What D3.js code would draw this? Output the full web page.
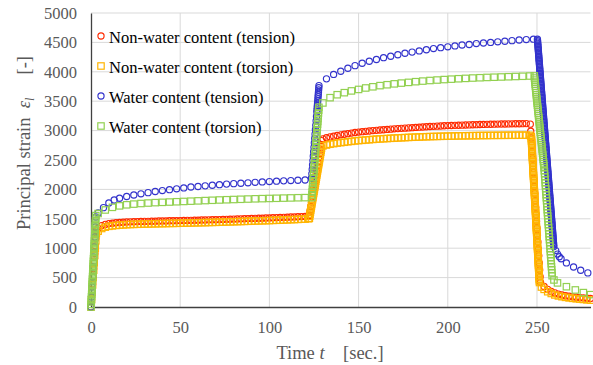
<!DOCTYPE html>
<html>
<head>
<meta charset="utf-8">
<script src="https://cdn.jsdelivr.net/npm/d3@7"></script>
<style>
  html, body { margin: 0; padding: 0; background: #fff; }
  svg { display: block; }
  svg text { font-family: 'Liberation Serif', 'Times New Roman', 'DejaVu Serif', serif; }
</style>
</head>
<body>
<svg id="chart" width="593" height="365"></svg>
<script>
// tick values
const xTicks = [0, 50, 100, 150, 200, 250];
const yTicks = [0, 500, 1000, 1500, 2000, 2500, 3000, 3500, 4000, 4500, 5000];

const seriesNames = [
  'Non-water content (tension)',
  'Non-water content (torsion)',
  'Water content (tension)',
  'Water content (torsion)',
];

// [time (sec), principal strain]
const nwTension = [
  [0, 0], [0.3, 130], [0.6, 260], [0.9, 390], [1.2, 520], [1.5, 650], [1.8, 780], [2.1, 910], [2.4, 1040], [2.7, 1170], [3, 1300],
  [4, 1340], [6, 1385], [8, 1405], [10, 1418], [12, 1425], [14, 1432], [16, 1437], [18, 1441], [20, 1445], [22, 1448],
  [24, 1450], [26, 1452], [28, 1454], [30, 1456], [32, 1457], [34, 1459], [36, 1460], [38, 1462], [40, 1463], [42, 1464],
  [44, 1466], [46, 1467], [48, 1468], [50, 1470], [52, 1471], [54, 1473], [56, 1474], [58, 1476], [60, 1477], [62, 1479],
  [64, 1480], [66, 1482], [68, 1484], [70, 1485], [72, 1487], [74, 1489], [76, 1491], [78, 1493], [80, 1495], [82, 1497],
  [84, 1499], [86, 1501], [88, 1503], [90, 1505], [92, 1507], [94, 1509], [96, 1511], [98, 1513], [100, 1515], [102, 1518],
  [104, 1520], [106, 1522], [108, 1525], [110, 1527], [112, 1530], [114, 1532], [116, 1535], [118, 1538], [120, 1540], [122, 1545],
  [122.4, 1560], [122.8, 1635], [123.2, 1710], [123.6, 1785], [124, 1860], [124.4, 1935], [124.8, 2010], [125.2, 2085],
  [125.6, 2160], [126, 2235], [126.4, 2310], [126.8, 2385], [127.2, 2460], [127.6, 2535], [128, 2610], [128.4, 2685],
  [128.8, 2760], [129.2, 2830],
  [130, 2860], [132, 2878], [134, 2893], [136, 2905], [138, 2917], [140, 2928], [142, 2938], [144, 2948], [146, 2958], [148, 2967],
  [150, 2975], [152, 2982], [154, 2988], [156, 2994], [158, 3000], [160, 3005], [162, 3010], [164, 3015], [166, 3020], [168, 3025],
  [170, 3030], [172, 3034], [174, 3038], [176, 3042], [178, 3046], [180, 3050], [182, 3054], [184, 3058], [186, 3062], [188, 3066],
  [190, 3070], [192, 3073], [194, 3076], [196, 3079], [198, 3082], [200, 3085], [202, 3087], [204, 3089], [206, 3091], [208, 3093],
  [210, 3095], [212, 3097], [214, 3099], [216, 3101], [218, 3103], [220, 3105], [222, 3106], [224, 3108], [226, 3109], [228, 3111],
  [230, 3112], [232, 3113], [234, 3114], [236, 3115], [238, 3116], [240, 3117], [242, 3118], [244, 3119],
  [246.25, 3110], [246.5, 2990], [246.75, 2875], [247, 2755], [247.25, 2640], [247.5, 2520], [247.75, 2400], [248, 2285],
  [248.25, 2165], [248.5, 2050], [248.75, 1930], [249, 1810], [249.25, 1695], [249.5, 1575], [249.75, 1460], [250, 1340],
  [250.25, 1220], [250.5, 1105], [250.75, 985], [251, 870], [251.25, 750], [251.5, 630], [251.75, 515], [252, 420],
  [254, 350], [256, 300], [258, 265], [260, 240], [262, 220], [264, 205], [266, 192], [268, 182], [270, 173], [272, 166],
  [274, 160], [276, 155], [278, 150], [280, 146],
];

const nwTorsion = [
  [0, 0], [0.3, 125], [0.6, 250], [0.9, 375], [1.2, 500], [1.5, 625], [1.8, 750], [2.1, 875], [2.4, 1000], [2.7, 1125], [3, 1250],
  [4, 1290], [6, 1335], [8, 1358], [10, 1372], [12, 1380], [14, 1387], [16, 1392], [18, 1396], [20, 1400], [22, 1403],
  [24, 1405], [26, 1407], [28, 1409], [30, 1411], [32, 1412], [34, 1414], [36, 1415], [38, 1417], [40, 1418], [42, 1419],
  [44, 1421], [46, 1422], [48, 1423], [50, 1425], [52, 1426], [54, 1428], [56, 1429], [58, 1431], [60, 1432], [62, 1434],
  [64, 1435], [66, 1437], [68, 1439], [70, 1440], [72, 1442], [74, 1444], [76, 1446], [78, 1448], [80, 1450], [82, 1452],
  [84, 1454], [86, 1456], [88, 1458], [90, 1460], [92, 1462], [94, 1464], [96, 1466], [98, 1468], [100, 1470], [102, 1473],
  [104, 1475], [106, 1477], [108, 1480], [110, 1482], [112, 1485], [114, 1487], [116, 1490], [118, 1493], [120, 1495], [122, 1500],
  [122.4, 1510], [122.6, 1545], [122.8, 1580], [123, 1615], [123.2, 1650], [123.4, 1685], [123.6, 1720], [123.8, 1755],
  [124, 1790], [124.2, 1825], [124.4, 1860], [124.6, 1895], [124.8, 1930], [125, 1965], [125.2, 2000], [125.4, 2035],
  [125.6, 2070], [125.8, 2105], [126, 2140], [126.2, 2175], [126.4, 2210], [126.6, 2245], [126.8, 2280], [127, 2315],
  [127.2, 2350], [127.4, 2385], [127.6, 2420], [127.8, 2455], [128, 2490], [128.2, 2525], [128.4, 2560], [128.6, 2595],
  [128.8, 2630], [129, 2665], [129.2, 2700],
  [130, 2740], [132, 2755], [134, 2768], [136, 2778], [138, 2788], [140, 2795], [142, 2802], [144, 2810], [146, 2817], [148, 2824],
  [150, 2830], [152, 2835], [154, 2840], [156, 2845], [158, 2850], [160, 2855], [162, 2858], [164, 2862], [166, 2865], [168, 2869],
  [170, 2872], [172, 2875], [174, 2878], [176, 2881], [178, 2884], [180, 2887], [182, 2889], [184, 2891], [186, 2894], [188, 2896],
  [190, 2898], [192, 2900], [194, 2901], [196, 2903], [198, 2904], [200, 2906], [202, 2907], [204, 2908], [206, 2910], [208, 2911],
  [210, 2912], [212, 2913], [214, 2914], [216, 2915], [218, 2916], [220, 2917], [222, 2917], [224, 2918], [226, 2919], [228, 2919],
  [230, 2920], [232, 2920], [234, 2921], [236, 2921], [238, 2921], [240, 2922], [242, 2922], [244, 2922], [246, 2920],
  [246.8, 2900], [246.85, 2873], [246.9, 2846], [246.95, 2819], [247, 2792], [247.05, 2765], [247.1, 2738], [247.15, 2711],
  [247.2, 2684], [247.25, 2657], [247.3, 2630], [247.35, 2603], [247.4, 2576], [247.45, 2549], [247.5, 2522], [247.55, 2495],
  [247.6, 2468], [247.65, 2441], [247.7, 2414], [247.75, 2387], [247.8, 2360], [247.85, 2333], [247.9, 2306], [247.95, 2279],
  [248, 2252], [248.05, 2225], [248.1, 2198], [248.15, 2171], [248.2, 2144], [248.25, 2117], [248.3, 2090], [248.35, 2063],
  [248.4, 2036], [248.45, 2009], [248.5, 1982], [248.55, 1955], [248.6, 1928], [248.65, 1901], [248.7, 1874], [248.75, 1847],
  [248.8, 1820], [248.85, 1793], [248.9, 1766], [248.95, 1739], [249, 1712], [249.05, 1685], [249.1, 1658], [249.15, 1631],
  [249.2, 1604], [249.25, 1577], [249.3, 1550], [249.35, 1523], [249.4, 1496], [249.45, 1469], [249.5, 1442], [249.55, 1415],
  [249.6, 1388], [249.65, 1361], [249.7, 1334], [249.75, 1307], [249.8, 1280], [249.85, 1253], [249.9, 1226], [249.95, 1199],
  [250, 1172], [250.05, 1145], [250.1, 1118], [250.15, 1091], [250.2, 1064], [250.25, 1037], [250.3, 1010], [250.35, 983],
  [250.4, 956], [250.45, 929], [250.5, 902], [250.55, 875], [250.6, 848], [250.65, 821], [250.7, 794], [250.75, 767],
  [250.8, 740], [250.85, 713], [250.9, 686], [250.95, 659], [251, 632], [251.05, 605], [251.1, 578], [251.15, 551],
  [251.2, 524], [251.25, 497], [251.3, 470], [251.35, 443], [251.4, 416],
  [252.5, 340], [254, 300], [256, 260], [258, 230], [260, 205], [262, 188], [264, 175], [266, 164], [268, 155], [270, 147],
  [272, 140], [274, 134], [276, 128], [278, 122], [280, 117],
];

const wTension = [
  [0, 0], [0.3, 170], [0.6, 340], [0.9, 510], [1.2, 680], [1.5, 850], [1.8, 1020], [2.1, 1190], [2.4, 1360], [2.7, 1530],
  [4, 1600], [7, 1690], [10, 1770], [13, 1820], [16, 1850], [20, 1880], [24, 1905], [28, 1925], [32, 1945], [36, 1965],
  [40, 1980], [44, 1995], [48, 2010], [52, 2025], [56, 2040], [60, 2050], [64, 2060], [68, 2070], [72, 2080], [76, 2090],
  [80, 2098], [84, 2105], [88, 2112], [92, 2120], [96, 2127], [100, 2133], [104, 2140], [108, 2145], [112, 2150], [116, 2155],
  [120, 2160],
  [123.6, 2190], [123.8, 2265], [124, 2340], [124.2, 2415], [124.4, 2490], [124.6, 2565], [124.8, 2640], [125, 2715],
  [125.2, 2790], [125.4, 2865], [125.6, 2940], [125.8, 3015], [126, 3090], [126.2, 3165], [126.4, 3240], [126.6, 3315],
  [126.7, 3352], [126.8, 3390], [126.9, 3428], [127, 3465], [127.1, 3502], [127.2, 3540], [127.3, 3578], [127.4, 3615],
  [127.5, 3652], [127.6, 3690], [127.7, 3728], [127.8, 3765],
  [132, 3880], [136, 3955], [140, 4010], [144, 4060], [148, 4105], [152, 4145], [156, 4180], [160, 4210], [164, 4240], [168, 4265],
  [172, 4290], [176, 4315], [180, 4335], [184, 4355], [188, 4375], [192, 4395], [196, 4410], [200, 4425], [204, 4440], [208, 4455],
  [212, 4465], [216, 4480], [220, 4490], [224, 4500], [228, 4510], [232, 4520], [236, 4530], [240, 4540], [244, 4548], [248, 4555],
  [250.25, 4555], [250.3125, 4531], [250.375, 4507], [250.4375, 4483], [250.5, 4459], [250.5625, 4435], [250.625, 4411], [250.6875, 4387],
  [250.75, 4363], [250.8125, 4339], [250.875, 4315], [250.9375, 4291], [251, 4267], [251.0625, 4243], [251.125, 4219], [251.1875, 4195],
  [251.25, 4171], [251.3125, 4147], [251.375, 4123], [251.4375, 4099], [251.5, 4075], [251.5625, 4051], [251.625, 4027], [251.6875, 4003],
  [251.75, 3979], [251.8125, 3955], [251.875, 3931], [251.9375, 3907], [252, 3883], [252.0625, 3859], [252.125, 3835], [252.1875, 3811],
  [252.25, 3787], [252.3125, 3763], [252.375, 3739], [252.4375, 3715], [252.5, 3691], [252.5625, 3667], [252.625, 3643], [252.6875, 3619],
  [252.75, 3595], [252.8125, 3571], [252.875, 3547], [252.9375, 3523], [253, 3499], [253.0625, 3475], [253.125, 3451], [253.1875, 3427],
  [253.25, 3403], [253.3125, 3379], [253.375, 3355], [253.4375, 3331], [253.5, 3307], [253.5625, 3283], [253.625, 3259], [253.6875, 3235],
  [253.75, 3211], [253.8125, 3187], [253.875, 3163], [253.9375, 3139], [254, 3115], [254.0625, 3091], [254.125, 3067], [254.1875, 3043],
  [254.25, 3019], [254.3125, 2995], [254.375, 2971], [254.4375, 2947], [254.5, 2923], [254.5625, 2899], [254.625, 2875], [254.6875, 2851],
  [254.75, 2827], [254.8125, 2803], [254.875, 2779], [254.9375, 2755], [255, 2731], [255.0625, 2707], [255.125, 2683], [255.1875, 2659],
  [255.25, 2635], [255.3125, 2611], [255.375, 2587], [255.4375, 2563], [255.5, 2539], [255.5625, 2515], [255.625, 2491], [255.6875, 2467],
  [255.75, 2443], [255.8125, 2419], [255.875, 2395], [255.9375, 2371], [256, 2347], [256.0625, 2323], [256.125, 2299], [256.1875, 2275],
  [256.25, 2251], [256.3125, 2227], [256.375, 2203], [256.4375, 2179], [256.5, 2155], [256.5625, 2131], [256.625, 2107], [256.6875, 2083],
  [256.75, 2059], [256.8125, 2035], [256.875, 2011], [256.9375, 1987], [257, 1963], [257.0625, 1939], [257.125, 1915], [257.1875, 1891],
  [257.25, 1867], [257.3125, 1843], [257.375, 1819], [257.4375, 1795], [257.5, 1771], [257.5625, 1747], [257.625, 1723], [257.6875, 1699],
  [257.75, 1675], [257.8125, 1651], [257.875, 1627], [257.9375, 1603], [258, 1579], [258.0625, 1555], [258.125, 1531], [258.1875, 1507],
  [258.25, 1483], [258.3125, 1459], [258.375, 1435], [258.4375, 1411], [258.5, 1387], [258.5625, 1363], [258.625, 1339], [258.6875, 1315],
  [258.75, 1291], [258.8125, 1267], [258.875, 1243], [258.9375, 1219], [259, 1195], [259.0625, 1171], [259.125, 1147], [259.1875, 1123],
  [259.25, 1099], [259.3125, 1075], [259.375, 1051], [259.4375, 1027],
  [260.5, 960], [261.5, 900], [262.5, 855], [263.5, 820], [266.5, 750], [270.5, 680], [274.5, 625], [278.5, 580],
];

const wTorsion = [
  [0, 0], [0.075, 43], [0.15, 86], [0.225, 130], [0.3, 173], [0.375, 216], [0.45, 259], [0.525, 302], [0.6, 346], [0.675, 389],
  [0.75, 432], [0.825, 475], [0.9, 518], [0.975, 562], [1.05, 605], [1.125, 648], [1.2, 691], [1.275, 734], [1.35, 778],
  [1.425, 821], [1.5, 864], [1.575, 907], [1.65, 950], [1.725, 994], [1.8, 1037], [1.875, 1080], [1.95, 1123], [2.025, 1166],
  [2.1, 1210], [2.175, 1253], [2.25, 1296], [2.325, 1339], [2.4, 1382], [2.475, 1426], [2.55, 1469], [2.625, 1512], [2.7, 1555],
  [4, 1590], [8, 1650], [12, 1695], [16, 1720], [20, 1738], [24, 1750], [28, 1760], [32, 1768], [36, 1775], [40, 1780],
  [44, 1785], [48, 1790], [52, 1795], [56, 1800], [60, 1805], [64, 1810], [68, 1815], [72, 1820], [76, 1824], [80, 1828],
  [84, 1832], [88, 1836], [92, 1840], [96, 1843], [100, 1846], [104, 1849], [108, 1852], [112, 1855], [116, 1858], [120, 1860],
  [123.75, 1860], [123.875, 1908], [124, 1956], [124.125, 2004], [124.25, 2052], [124.375, 2100], [124.5, 2148], [124.625, 2196],
  [124.75, 2244], [124.875, 2292], [125, 2340], [125.125, 2388], [125.25, 2436], [125.375, 2484], [125.5, 2532], [125.625, 2580],
  [125.75, 2628], [125.875, 2676], [126, 2724], [126.125, 2772], [126.25, 2820], [126.375, 2868], [126.5, 2916], [126.625, 2964],
  [126.75, 3012], [126.875, 3060], [127, 3108], [127.125, 3156], [127.25, 3204], [127.375, 3252], [127.5, 3300], [127.625, 3348],
  [127.75, 3396],
  [130, 3470], [134, 3560], [138, 3610], [142, 3645], [146, 3675], [150, 3700], [154, 3725], [158, 3745], [162, 3765], [166, 3780],
  [170, 3795], [174, 3808], [178, 3820], [182, 3832], [186, 3842], [190, 3852], [194, 3860], [198, 3868], [202, 3875], [206, 3882],
  [210, 3888], [214, 3894], [218, 3899], [222, 3904], [226, 3908], [230, 3912], [234, 3916], [238, 3920], [242, 3924], [246, 3928],
  [248.5, 3930], [248.625, 3894], [248.75, 3859], [248.875, 3823], [249, 3788], [249.125, 3752], [249.25, 3717], [249.375, 3681],
  [249.5, 3646], [249.625, 3610], [249.75, 3575], [249.875, 3539], [250, 3504], [250.125, 3468], [250.25, 3433], [250.375, 3397],
  [250.5, 3362], [250.625, 3326], [250.75, 3291], [250.875, 3255], [251, 3220], [251.125, 3184], [251.25, 3149], [251.375, 3113],
  [251.5, 3078], [251.625, 3042], [251.75, 3007], [251.875, 2971], [252, 2936], [252.125, 2900], [252.25, 2865], [252.375, 2829],
  [252.5, 2794], [252.625, 2758], [252.75, 2723], [252.875, 2687], [253, 2652], [253.125, 2616], [253.25, 2581], [253.375, 2545],
  [253.5, 2510], [253.625, 2474], [253.75, 2439], [253.875, 2403], [254, 2368], [254.125, 2317], [254.25, 2266], [254.375, 2215],
  [254.5, 2164], [254.625, 2113], [254.75, 2062], [254.875, 2011], [255, 1960], [255.125, 1909], [255.25, 1858], [255.375, 1807],
  [255.5, 1756], [255.625, 1705], [255.75, 1654], [255.875, 1603], [256, 1552], [256.125, 1501], [256.25, 1450], [256.375, 1399],
  [256.5, 1348], [256.625, 1297], [256.75, 1246], [256.875, 1195], [257, 1144], [257.125, 1093], [257.25, 1042], [257.375, 991],
  [257.5, 940], [257.625, 889], [257.75, 838], [257.875, 787], [258, 736], [258.125, 685], [258.25, 634], [258.375, 583], [258.5, 532],
  [259.5, 460], [261.5, 410], [266.5, 345], [271.5, 290], [276, 245], [280, 210],
];

const series = [
  { name: seriesNames[0], points: nwTension, shape: 'circle', color: '#ff2a00' },
  { name: seriesNames[1], points: nwTorsion, shape: 'square', color: '#ffb400' },
  { name: seriesNames[2], points: wTension, shape: 'circle', color: '#3333cc' },
  { name: seriesNames[3], points: wTorsion, shape: 'square', color: '#92d050' },
];

const FONT = "'Liberation Serif', 'Times New Roman', 'DejaVu Serif', serif";
const svg = d3.select('#chart');

const x = d3.scaleLinear().domain([0, 280]).range([91, 590.5]);
const y = d3.scaleLinear().domain([0, 5000]).range([307, 13]);

// grid
svg.append('g')
  .selectAll('line')
  .data(yTicks.filter((d) => d > 0))
  .join('line')
  .attr('x1', x(0)).attr('x2', x(280))
  .attr('y1', (d) => y(d)).attr('y2', (d) => y(d))
  .attr('stroke', '#d9d9d9').attr('stroke-width', 1);

svg.append('g')
  .selectAll('line')
  .data(xTicks.filter((d) => d > 0))
  .join('line')
  .attr('x1', (d) => x(d)).attr('x2', (d) => x(d))
  .attr('y1', y(0)).attr('y2', y(5000))
  .attr('stroke', '#d9d9d9').attr('stroke-width', 1);

// axes
svg.append('g')
  .attr('transform', `translate(${x(0)},0)`)
  .call(d3.axisLeft(y).tickValues(yTicks).tickFormat(d3.format('d')).tickSize(0).tickPadding(14))
  .call((g) => g.attr('font-family', null))
  .call((g) => g.select('.domain').attr('stroke', '#404040').attr('stroke-width', 1.3))
  .call((g) => g.selectAll('text')
    .style('font-family', FONT).attr('font-size', 16.5).attr('fill', '#595959'));

svg.append('g')
  .attr('transform', `translate(0,${y(0)})`)
  .call(d3.axisBottom(x).tickValues(xTicks).tickFormat(d3.format('d')).tickSize(0).tickPadding(14))
  .call((g) => g.attr('font-family', null))
  .call((g) => g.select('.domain').attr('stroke', '#404040').attr('stroke-width', 1.3))
  .call((g) => g.selectAll('text')
    .style('font-family', FONT).attr('font-size', 16.5).attr('fill', '#595959'));

// markers
const plot = svg.append('g');
function drawMarkers(g, shape, color, pts) {
  if (shape === 'circle') {
    g.selectAll('circle')
      .data(pts)
      .join('circle')
      .attr('cx', (d) => x(d[0]))
      .attr('cy', (d) => y(d[1]))
      .attr('r', 3.1)
      .attr('fill', 'none')
      .attr('stroke', color)
      .attr('stroke-width', 1.15);
  } else {
    g.selectAll('rect')
      .data(pts)
      .join('rect')
      .attr('x', (d) => x(d[0]) - 3.2)
      .attr('y', (d) => y(d[1]) - 3.2)
      .attr('width', 6.4)
      .attr('height', 6.4)
      .attr('fill', 'none')
      .attr('stroke', color)
      .attr('stroke-width', 1.2);
  }
}
series.forEach((s) => drawMarkers(plot.append('g'), s.shape, s.color, s.points));

// legend
const legend = svg.append('g');
series.forEach((s, i) => {
  const ly = 36 + i * 30;
  drawMarkers(legend.append('g'), s.shape, s.color, [[x.invert(101), y.invert(ly)]]);
  legend.append('text')
    .attr('x', 109)
    .attr('y', ly + 6.5)
    .style('font-family', FONT)
    .attr('font-size', 16.5)
    .attr('fill', '#000')
    .text(s.name);
});

// axis titles
const xTitle = svg.append('text')
  .attr('x', 330)
  .attr('y', 359)
  .attr('text-anchor', 'middle')
  .style('font-family', FONT)
  .attr('font-size', 18.5)
  .attr('fill', '#595959');
xTitle.append('tspan').text('Time ');
xTitle.append('tspan').attr('font-style', 'italic').text('t');
xTitle.append('tspan').text('\u00a0\u00a0\u00a0\u00a0[sec.]');

const yTitle = svg.append('text')
  .attr('transform', 'translate(30,143) rotate(-90)')
  .attr('text-anchor', 'middle')
  .style('font-family', FONT)
  .attr('font-size', 18.5)
  .attr('fill', '#595959');
yTitle.append('tspan').text('Principal strain\u00a0\u00a0');
yTitle.append('tspan').attr('font-style', 'italic').text('\u03b5');
yTitle.append('tspan').attr('font-style', 'italic').attr('font-size', 12).attr('dy', 4).text('l');
yTitle.append('tspan').attr('dy', -4).text('\u00a0\u00a0\u00a0\u00a0\u00a0[-]');
</script>
</body>
</html>
